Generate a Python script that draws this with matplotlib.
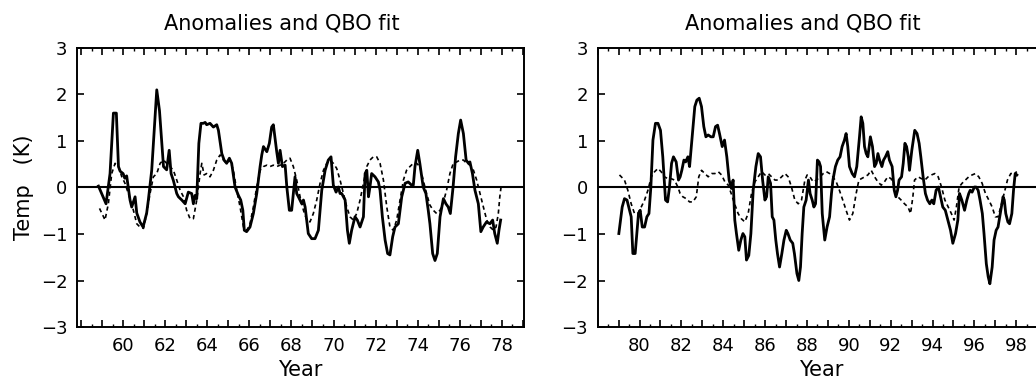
import numpy as np
import matplotlib
matplotlib.use("Agg")
import matplotlib.pyplot as plt
from matplotlib.ticker import MultipleLocator, FuncFormatter

# ---------------- data ----------------
left_solid_years = [58.83, 59.19, 59.38, 59.54, 59.68, 59.78, 59.86, 60.00, 60.08, 60.17, 60.33, 60.41, 60.57, 60.65, 60.80, 60.95,
    61.12, 61.20, 61.36, 61.52, 61.60, 61.73, 61.84, 61.92, 62.07, 62.19, 62.28, 62.39, 62.55, 62.63, 62.79, 62.95,
    63.10, 63.26, 63.34, 63.42, 63.50, 63.60, 63.70, 63.81, 63.90, 63.97, 64.13, 64.29, 64.45, 64.53, 64.69, 64.80,
    64.92, 65.05, 65.16, 65.32, 65.48, 65.59, 65.69, 65.76, 65.87, 66.03, 66.19, 66.35, 66.51, 66.59, 66.67, 66.83,
    66.95, 67.06, 67.14, 67.30, 67.38, 67.46, 67.57, 67.70, 67.78, 67.90, 68.01, 68.09, 68.17, 68.25, 68.33, 68.49,
    68.57, 68.65, 68.80, 68.96, 69.12, 69.28, 69.44, 69.60, 69.75, 69.88, 69.99, 70.12, 70.23, 70.31, 70.39, 70.55,
    70.66, 70.75, 70.86, 71.02, 71.13, 71.26, 71.42, 71.50, 71.58, 71.66, 71.73, 71.81, 71.97, 72.13, 72.21, 72.32,
    72.45, 72.57, 72.68, 72.81, 72.92, 73.08, 73.24, 73.40, 73.55, 73.71, 73.79, 73.87, 74.00, 74.10, 74.26, 74.39,
    74.50, 74.58, 74.71, 74.82, 74.93, 75.06, 75.22, 75.34, 75.45, 75.55, 75.68, 75.80, 75.93, 76.04, 76.17, 76.30,
    76.41, 76.48, 76.60, 76.72, 76.88, 77.00, 77.11, 77.27, 77.43, 77.56, 77.66, 77.78, 77.86, 77.94]
left_solid = [0.03, -0.35, 0.30, 1.60, 1.60, 0.45, 0.35, 0.30, 0.20, 0.25, -0.27, -0.42, -0.20, -0.55, -0.74, -0.85,
    -0.55, -0.27, 0.37, 1.50, 2.10, 1.65, 0.95, 0.45, 0.38, 0.80, 0.30, 0.15, -0.13, -0.20, -0.27, -0.35,
    -0.10, -0.13, -0.35, -0.17, -0.24, 0.95, 1.38, 1.38, 1.40, 1.35, 1.38, 1.30, 1.35, 1.23, 0.73, 0.59,
    0.52, 0.63, 0.52, 0.01, -0.17, -0.27, -0.49, -0.92, -0.95, -0.85, -0.56, -0.13, 0.45, 0.70, 0.88, 0.77,
    0.95, 1.30, 1.35, 0.77, 0.52, 0.80, 0.45, 0.48, 0.01, -0.49, -0.49, -0.13, 0.23, -0.13, -0.20, -0.35,
    -0.27, -0.42, -0.99, -1.10, -1.10, -0.92, -0.06, 0.37, 0.59, 0.66, 0.05, -0.10, 0.01, -0.13, -0.13, -0.27,
    -0.92, -1.20, -0.92, -0.63, -0.70, -0.85, -0.63, 0.30, 0.37, -0.20, 0.01, 0.30, 0.23, 0.12, -0.06, -0.63,
    -1.13, -1.42, -1.45, -1.06, -0.85, -0.78, -0.20, 0.09, 0.12, 0.05, 0.05, 0.45, 0.80, 0.52, 0.01, -0.13,
    -0.49, -0.78, -1.42, -1.57, -1.42, -0.63, -0.24, -0.35, -0.42, -0.56, 0.01, 0.66, 1.16, 1.45, 1.16, 0.59,
    0.52, 0.55, 0.30, -0.06, -0.35, -0.95, -0.85, -0.74, -0.78, -0.70, -0.99, -1.20, -0.92, -0.70]

left_fit_years = [58.88, 59.07, 59.14, 59.30, 59.46, 59.62, 59.78, 59.94, 60.09, 60.25, 60.49, 60.65, 60.80, 60.97, 61.12, 61.28,
    61.44, 61.60, 61.76, 61.92, 62.07, 62.23, 62.39, 62.55, 62.71, 62.87, 63.02, 63.18, 63.34, 63.50, 63.66, 63.74,
    63.85, 63.97, 64.13, 64.29, 64.45, 64.61, 64.77, 64.92, 65.08, 65.24, 65.40, 65.56, 65.72, 65.88, 66.03, 66.19,
    66.35, 66.51, 66.67, 66.83, 66.98, 67.14, 67.30, 67.46, 67.62, 67.78, 67.93, 68.09, 68.25, 68.41, 68.57, 68.73,
    68.88, 69.04, 69.20, 69.36, 69.52, 69.68, 69.83, 69.99, 70.15, 70.31, 70.47, 70.63, 70.78, 70.94, 71.10, 71.26,
    71.42, 71.58, 71.73, 71.89, 72.05, 72.21, 72.37, 72.53, 72.68, 72.84, 73.00, 73.16, 73.32, 73.47, 73.63, 73.79,
    73.95, 74.10, 74.26, 74.42, 74.58, 74.74, 74.90, 75.06, 75.22, 75.37, 75.53, 75.69, 75.85, 76.01, 76.17, 76.33,
    76.49, 76.65, 76.80, 76.96, 77.12, 77.28, 77.44, 77.60, 77.72, 77.83, 77.90, 77.96]
left_fit = [-0.45, -0.63, -0.70, -0.35, 0.30, 0.52, 0.45, 0.23, 0.09, -0.13, -0.49, -0.78, -0.85, -0.88, -0.56, -0.13,
    0.23, 0.30, 0.52, 0.59, 0.52, 0.45, 0.37, 0.16, -0.06, -0.20, -0.49, -0.67, -0.67, -0.27, 0.30, 0.52,
    0.27, 0.30, 0.23, 0.37, 0.59, 0.70, 0.59, 0.52, 0.59, 0.37, -0.06, -0.42, -0.85, -0.92, -0.78, -0.42,
    0.01, 0.37, 0.45, 0.48, 0.45, 0.48, 0.45, 0.48, 0.52, 0.59, 0.63, 0.45, 0.16, -0.20, -0.49, -0.70,
    -0.74, -0.56, -0.27, 0.09, 0.37, 0.52, 0.59, 0.52, 0.41, 0.16, -0.13, -0.42, -0.63, -0.70, -0.56, -0.27,
    0.09, 0.45, 0.59, 0.66, 0.66, 0.52, 0.16, -0.42, -0.85, -0.92, -0.70, -0.27, 0.16, 0.37, 0.45, 0.52,
    0.52, 0.45, 0.16, -0.13, -0.38, -0.49, -0.56, -0.49, -0.31, -0.06, 0.30, 0.52, 0.55, 0.59, 0.59, 0.52,
    0.48, 0.37, 0.16, -0.13, -0.42, -0.70, -0.85, -0.92, -0.85, -0.56, -0.20, 0.01]

right_solid_years = [79.01, 79.17, 79.28, 79.40, 79.52, 79.60, 79.68, 79.79, 79.87, 79.95, 80.03, 80.13, 80.24, 80.35, 80.45, 80.54,
    80.64, 80.76, 80.88, 81.00, 81.11, 81.24, 81.34, 81.43, 81.53, 81.62, 81.75, 81.86, 81.94, 82.02, 82.12, 82.20,
    82.31, 82.39, 82.50, 82.64, 82.74, 82.85, 82.96, 83.07, 83.17, 83.28, 83.41, 83.52, 83.63, 83.73, 83.82, 83.95,
    84.06, 84.17, 84.28, 84.39, 84.47, 84.55, 84.63, 84.74, 84.84, 84.94, 85.03, 85.11, 85.22, 85.32, 85.43, 85.56,
    85.67, 85.78, 85.88, 85.99, 86.07, 86.15, 86.26, 86.34, 86.42, 86.51, 86.59, 86.69, 86.80, 86.90, 87.01, 87.09,
    87.20, 87.32, 87.40, 87.52, 87.61, 87.69, 87.77, 87.85, 87.96, 88.07, 88.15, 88.25, 88.33, 88.41, 88.50, 88.58,
    88.65, 88.73, 88.85, 88.96, 89.08, 89.17, 89.24, 89.36, 89.47, 89.58, 89.68, 89.79, 89.87, 89.95, 90.03, 90.16,
    90.27, 90.38, 90.51, 90.59, 90.67, 90.75, 90.83, 90.91, 91.03, 91.13, 91.23, 91.31, 91.39, 91.47, 91.58, 91.66,
    91.75, 91.86, 91.94, 92.07, 92.17, 92.25, 92.33, 92.40, 92.52, 92.60, 92.68, 92.76, 92.84, 92.90, 93.01, 93.15,
    93.26, 93.36, 93.44, 93.55, 93.66, 93.76, 93.87, 93.97, 94.06, 94.17, 94.28, 94.38, 94.49, 94.61, 94.73, 94.86,
    94.97, 95.10, 95.21, 95.29, 95.40, 95.53, 95.64, 95.73, 95.80, 95.89, 96.00, 96.08, 96.18, 96.27, 96.38, 96.46,
    96.57, 96.66, 96.74, 96.85, 96.94, 97.04, 97.13, 97.21, 97.29, 97.37, 97.43, 97.50, 97.60, 97.68, 97.79, 97.87,
    97.95, 98.03]
right_solid = [-0.99, -0.42, -0.24, -0.27, -0.49, -0.63, -1.42, -1.42, -0.99, -0.56, -0.49, -0.85, -0.85, -0.63, -0.56, 0.01,
    1.02, 1.38, 1.38, 1.23, 0.66, -0.27, -0.31, 0.01, 0.52, 0.66, 0.55, 0.16, 0.23, 0.37, 0.59, 0.55,
    0.66, 0.45, 1.02, 1.74, 1.88, 1.92, 1.74, 1.31, 1.09, 1.13, 1.09, 1.09, 1.31, 1.34, 1.16, 0.88,
    1.02, 0.66, 0.16, -0.02, 0.16, -0.70, -0.99, -1.35, -1.13, -0.99, -1.06, -1.56, -1.46, -0.99, -0.06, 0.45,
    0.73, 0.66, 0.16, -0.27, -0.20, 0.23, 0.09, -0.63, -0.70, -1.13, -1.42, -1.71, -1.42, -1.13, -0.92, -0.99,
    -1.13, -1.20, -1.42, -1.85, -2.00, -1.71, -0.99, -0.42, -0.27, 0.16, -0.13, -0.27, -0.42, -0.35, 0.59, 0.55,
    0.45, -0.56, -1.13, -0.85, -0.63, -0.13, 0.16, 0.45, 0.59, 0.66, 0.88, 1.02, 1.16, 0.88, 0.45, 0.30,
    0.23, 0.45, 1.09, 1.52, 1.38, 0.88, 0.73, 0.66, 1.09, 0.88, 0.45, 0.52, 0.73, 0.59, 0.45, 0.59,
    0.66, 0.77, 0.59, 0.45, -0.06, -0.20, -0.06, 0.16, 0.23, 0.52, 0.95, 0.88, 0.66, 0.37, 0.80, 1.23,
    1.16, 0.95, 0.66, 0.23, -0.13, -0.27, -0.35, -0.27, -0.35, -0.06, 0.01, -0.20, -0.42, -0.49, -0.70, -0.92,
    -1.20, -0.99, -0.70, -0.13, -0.27, -0.49, -0.27, -0.13, -0.06, -0.10, 0.01, 0.01, -0.06, -0.27, -0.56, -0.99,
    -1.64, -1.92, -2.07, -1.71, -1.13, -0.92, -0.85, -0.63, -0.42, -0.20, -0.27, -0.56, -0.74, -0.78, -0.56, -0.06,
    0.30, 0.27]

right_fit_years = [79.04, 79.28, 79.44, 79.60, 79.76, 79.92, 80.08, 80.24, 80.40, 80.56, 80.72, 80.88, 81.03, 81.19, 81.35, 81.51,
    81.67, 81.83, 81.94, 82.07, 82.23, 82.39, 82.55, 82.71, 82.83, 82.96, 83.12, 83.28, 83.44, 83.60, 83.76, 83.92,
    84.08, 84.24, 84.38, 84.54, 84.71, 84.86, 85.03, 85.19, 85.35, 85.51, 85.67, 85.83, 85.99, 86.15, 86.31, 86.47,
    86.63, 86.79, 86.95, 87.10, 87.26, 87.42, 87.58, 87.74, 87.90, 88.01, 88.14, 88.30, 88.46, 88.62, 88.78, 88.93,
    89.08, 89.24, 89.40, 89.55, 89.71, 89.87, 90.03, 90.19, 90.35, 90.48, 90.60, 90.76, 90.91, 91.07, 91.23, 91.39,
    91.55, 91.70, 91.86, 92.02, 92.18, 92.34, 92.50, 92.66, 92.83, 92.95, 93.06, 93.14, 93.31, 93.47, 93.63, 93.79,
    93.95, 94.11, 94.27, 94.43, 94.59, 94.75, 94.90, 95.03, 95.14, 95.27, 95.41, 95.57, 95.73, 95.89, 96.05, 96.21,
    96.37, 96.53, 96.69, 96.85, 97.00, 97.13, 97.26, 97.42, 97.58, 97.74, 97.90, 98.03]
right_fit = [0.27, 0.16, -0.06, -0.35, -0.56, -0.56, -0.42, -0.27, -0.06, 0.23, 0.34, 0.41, 0.34, 0.23, 0.19, 0.19,
    0.16, 0.01, -0.13, -0.20, -0.24, -0.31, -0.31, -0.20, 0.23, 0.37, 0.30, 0.23, 0.30, 0.30, 0.34, 0.27,
    0.12, 0.05, -0.13, -0.35, -0.56, -0.67, -0.74, -0.56, -0.13, 0.12, 0.23, 0.34, 0.27, 0.30, 0.23, 0.16,
    0.16, 0.23, 0.30, 0.23, 0.01, -0.27, -0.35, -0.27, 0.16, 0.27, 0.23, 0.12, 0.16, 0.23, 0.30, 0.34,
    0.30, 0.23, 0.12, -0.06, -0.27, -0.49, -0.70, -0.56, -0.13, 0.16, 0.19, 0.23, 0.27, 0.37, 0.23, 0.12,
    0.05, 0.12, 0.23, 0.19, 0.01, -0.20, -0.27, -0.35, -0.42, -0.56, -0.20, 0.16, 0.23, 0.19, 0.16, 0.23,
    0.27, 0.30, 0.23, 0.01, -0.27, -0.42, -0.56, -0.70, -0.42, 0.01, 0.09, 0.16, 0.23, 0.27, 0.30, 0.23,
    0.09, -0.13, -0.27, -0.42, -0.63, -0.63, -0.42, -0.13, 0.16, 0.30, 0.30, 0.34]

left_year_labels = [60, 62, 64, 66, 68, 70, 72, 74, 76, 78]
right_year_labels = [80, 82, 84, 86, 88, 90, 92, 94, 96, 98]
panel_title = "Anomalies and QBO fit"
x_label = "Year"
y_label = "Temp   (K)"
y_ticks = [-3, -2, -1, 0, 1, 2, 3]

# ---------------- figure ----------------
plt.rcParams['font.family'] = ['DejaVu Sans']
W, H = 1036, 382
fig = plt.figure(figsize=(W / 100, H / 100), dpi=100)

def make_fmt(labels):
    def fmt(v, pos):
        iv = int(round(v))
        return f"{iv:d}" if iv in labels else ""
    return FuncFormatter(fmt)

def setup(ax, xlim, labels):
    ax.set_xlim(*xlim)
    ax.set_ylim(-3, 3)
    ax.set_yticks(y_ticks)
    ax.xaxis.set_major_locator(MultipleLocator(1))
    ax.xaxis.set_minor_locator(MultipleLocator(0.5))
    ax.xaxis.set_major_formatter(make_fmt(labels))
    ax.tick_params(axis='both', which='major', direction='in', top=True, right=True,
                   length=5, width=1.2, labelsize=13, pad=7, colors='black')
    ax.tick_params(axis='x', which='minor', direction='in', top=True, length=2.5, width=1.0)
    for s in ax.spines.values():
        s.set_linewidth(1.4)
    ax.axhline(0, color='black', lw=1.5, zorder=1)
    ax.set_xlabel(x_label, fontsize=15, labelpad=4)

ax1 = fig.add_axes([77 / W, 55 / H, 447 / W, 279 / H])
setup(ax1, (57.81, 79.05), left_year_labels)
ax1.plot(left_fit_years, left_fit, color='black', lw=1.2, ls=(0, (2.5, 2)), zorder=2)
ax1.plot(left_solid_years, left_solid, color='black', lw=2.0, zorder=3)
ax1.set_ylabel(y_label, fontsize=15, labelpad=5)

ax2 = fig.add_axes([597.7 / W, 55 / H, 447 / W, 279 / H])
setup(ax2, (78.0, 99.36), right_year_labels)
ax2.plot(right_fit_years, right_fit, color='black', lw=1.2, ls=(0, (2.5, 2)), zorder=2)
ax2.plot(right_solid_years, right_solid, color='black', lw=2.0, zorder=3)

fig.text(282 / W, 1 - 23 / H, panel_title, ha='center', va='center', fontsize=15)
fig.text(803 / W, 1 - 23 / H, panel_title, ha='center', va='center', fontsize=15)

fig.savefig("out.png", dpi=100)
